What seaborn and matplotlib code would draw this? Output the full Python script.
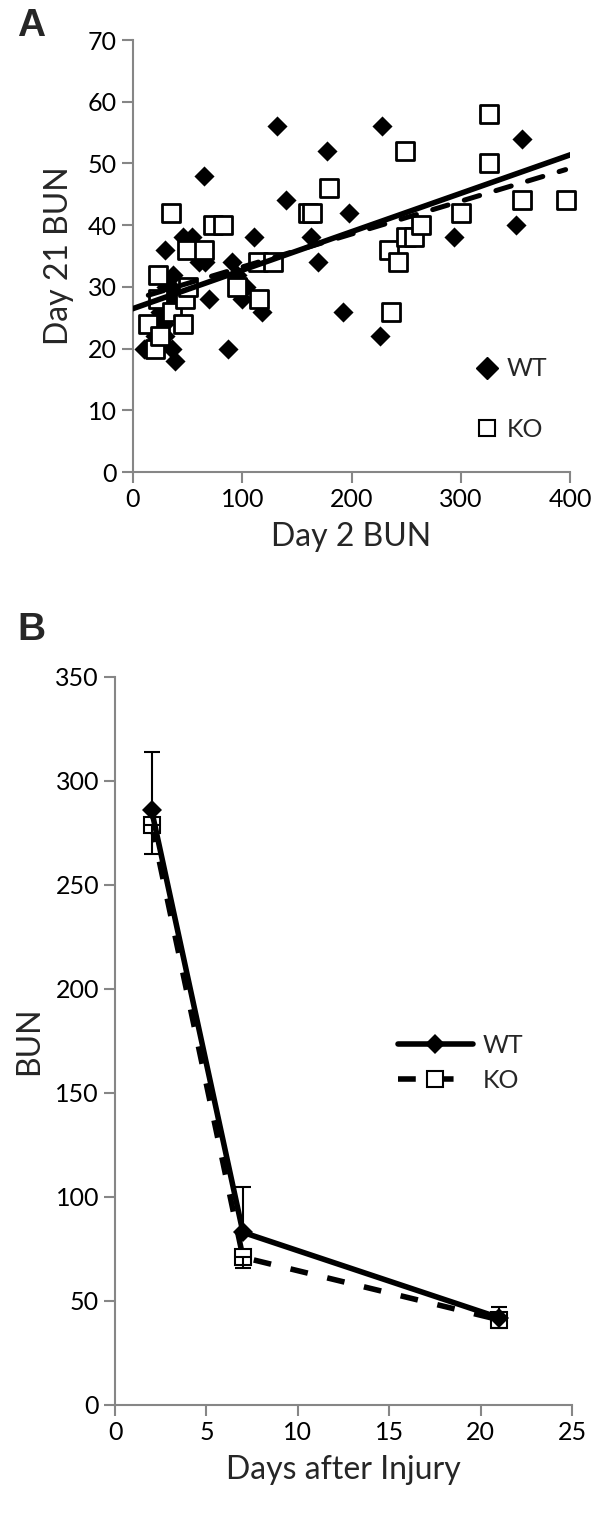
import numpy as np
import pandas as pd
import seaborn as sns
import matplotlib.pyplot as plt
from matplotlib.lines import Line2D

# Panel A: day 2 vs day 21 BUN, per mouse
wt_day2 = [10, 38, 36, 20, 29, 22, 28, 25, 33, 26, 36, 30, 35, 37, 29, 46, 54,
           60, 66, 70, 65, 87, 91, 95, 100, 103, 111, 118, 132, 140, 163, 169,
           178, 192, 198, 226, 228, 294, 351, 356]
wt_day21 = [20, 18, 20, 22, 22, 24, 24, 26, 26, 28, 28, 30, 30, 32, 36, 38, 38,
            34, 34, 28, 48, 20, 34, 32, 28, 30, 38, 26, 56, 44, 38, 34,
            52, 26, 42, 22, 56, 38, 40, 54]

ko_day2 = [14, 20, 25, 23, 23, 35, 36, 46, 48, 50, 49, 65, 73, 82, 95, 114,
           115, 128, 160, 164, 179, 234, 236, 243, 250, 257, 264, 249, 300,
           326, 326, 356, 396]
ko_day21 = [24, 20, 22, 28, 32, 42, 26, 24, 28, 30, 36, 36, 40, 40, 30, 34,
            28, 34, 42, 42, 46, 36, 26, 34, 38, 38, 40, 52, 42,
            58, 50, 44, 44]

# Panel B: time course, mean BUN with one-sided error bars
days = [2, 7, 21]
wt_mean = [286, 83, 42]
wt_err = [28, 22, 5]
ko_mean = [279, 71, 41]
ko_err = [14, 5, 4]

sns.set_style("ticks")
plt.rcParams['font.family'] = ['Lato', 'DejaVu Sans']

axis_grey = '#868686'

fig = plt.figure(figsize=(6, 15.15), dpi=100)
W, H = 600, 1515
ax1 = fig.add_axes([133 / W, 1 - 472 / H, (570 - 133) / W, (472 - 40) / H])
ax2 = fig.add_axes([115 / W, 1 - 1405 / H, (572 - 115) / W, (1405 - 677) / H])

# ---- Panel A ----
df_wt = pd.DataFrame({'day2': wt_day2, 'day21': wt_day21})
df_ko = pd.DataFrame({'day2': ko_day2, 'day21': ko_day21})

sns.regplot(data=df_ko, x='day2', y='day21', ax=ax1, ci=None, truncate=True,
            marker='s',
            scatter_kws=dict(s=150, facecolors='white', edgecolors='black',
                             linewidths=2, alpha=1, zorder=3, clip_on=False),
            line_kws=dict(color='black', lw=3.6, linestyle=(0, (3.2, 3.4)),
                          dash_capstyle='round', zorder=4))
sns.regplot(data=df_wt, x='day2', y='day21', ax=ax1, ci=None, truncate=False,
            marker='D', color='black',
            scatter_kws=dict(s=105, linewidths=0, alpha=1, zorder=2),
            line_kws=dict(color='black', lw=4, zorder=5))

ax1.set_xlim(0, 400)
ax1.set_ylim(0, 70)
ax1.set_xticks(range(0, 401, 100))
ax1.set_yticks(range(0, 71, 10))
ax1.set_xlabel('Day 2 BUN', fontsize=23, labelpad=8)
ax1.set_ylabel('Day 21 BUN', fontsize=23, labelpad=10)

leg_a = [Line2D([], [], marker='D', color='black', linestyle='none', markersize=11),
         Line2D([], [], marker='s', markerfacecolor='white', markeredgecolor='black',
                markeredgewidth=1.5, linestyle='none', markersize=11)]
ax1.legend(leg_a, ['WT', 'KO'], loc='lower right', bbox_to_anchor=(1.0, 0.02),
           frameon=False, fontsize=18, handlelength=0.8, handletextpad=0.4,
           labelspacing=1.5)

# ---- Panel B ----
sns.lineplot(x=days, y=ko_mean, ax=ax2, color='black', lw=4,
             linestyle=(0, (3.2, 3.6)), marker='s', markersize=11,
             markerfacecolor='white', markeredgecolor='black',
             markeredgewidth=1.5, label='KO', zorder=3)
sns.lineplot(x=days, y=wt_mean, ax=ax2, color='black', lw=4, marker='D',
             markersize=10, markeredgewidth=0, label='WT', zorder=4)
ax2.errorbar(days, wt_mean, yerr=[[0] * 3, wt_err], fmt='none', ecolor='black',
             elinewidth=1.5, capsize=6, capthick=1.5, zorder=5)
ax2.errorbar(days, ko_mean, yerr=[ko_err, [0] * 3], fmt='none', ecolor='black',
             elinewidth=1.5, capsize=6, capthick=1.5, zorder=5)

ax2.set_xlim(0, 25)
ax2.set_ylim(0, 350)
ax2.set_xticks(range(0, 26, 5))
ax2.set_yticks(range(0, 351, 50))
ax2.set_xlabel('Days after Injury', fontsize=23, labelpad=8)
ax2.set_ylabel('BUN', fontsize=23, labelpad=8)

handles, labels = ax2.get_legend_handles_labels()
order = [labels.index('WT'), labels.index('KO')]
ax2.legend([handles[i] for i in order], ['WT', 'KO'], loc='center left',
           bbox_to_anchor=(0.57, 0.47), frameon=False, fontsize=18,
           handlelength=3.0, handletextpad=0.4, labelspacing=0.5)

for ax in (ax1, ax2):
    sns.despine(ax=ax)
    for side in ('left', 'bottom'):
        ax.spines[side].set_color(axis_grey)
        ax.spines[side].set_linewidth(1.5)
    ax.tick_params(axis='both', colors=axis_grey, labelcolor='black',
                   labelsize=18, length=8, width=1.5)

fig.text(17 / W, 1 - 8 / H, 'A', fontsize=28, fontweight='bold',
         family='Liberation Sans', va='top', ha='left')
fig.text(17 / W, 1 - 612 / H, 'B', fontsize=28, fontweight='bold',
         family='Liberation Sans', va='top', ha='left')

fig.savefig('out.png', dpi=100)
